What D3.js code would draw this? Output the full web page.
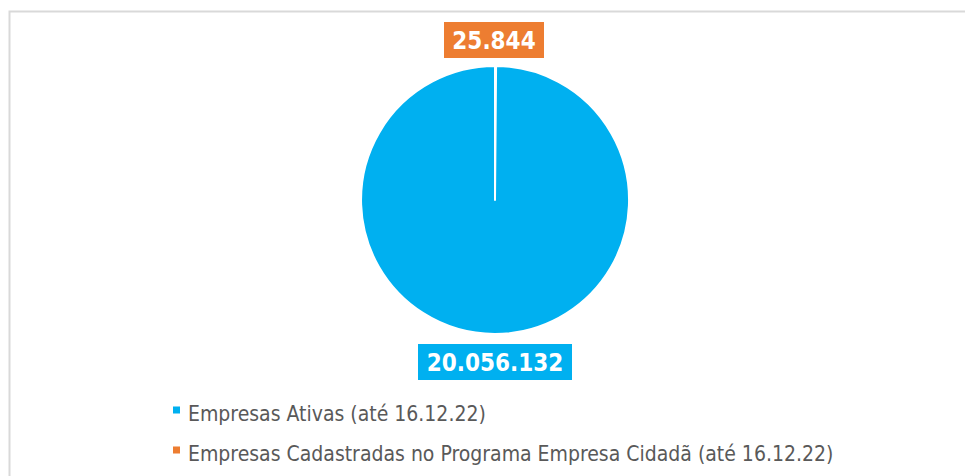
<!DOCTYPE html>
<html>
<head>
<meta charset="utf-8">
<script src="https://cdn.jsdelivr.net/npm/d3@7"></script>
<style>
  body { margin: 0; background: #fff; }
  svg { display: block; }
</style>
</head>
<body>
<div id="chart"></div>
<script>
// chart data
var categories = ["Empresas Ativas (até 16.12.22)", "Empresas Cadastradas no Programa Empresa Cidadã (até 16.12.22)"];
var values = [20056132, 25844];
var valueLabels = ["20.056.132", "25.844"];
var colors = ["#00B0F0", "#ED7D31"];

var width = 966, height = 476;
var cx = 495, cy = 200, radius = 134;

var svg = d3.select("#chart")
            .append("svg")
            .attr("width", width)
            .attr("height", height);

// chart frame (only top and left edges are visible)
svg.append("path")
   .attr("d", "M9.5," + height + " V11.5 H965")
   .style("fill", "none")
   .style("stroke", "#d9d9d9")
   .style("stroke-width", 2);

// pie, clockwise from 12 o'clock; reversed so the orange sliver sits right after 12
var pie = d3.pie().sort(null).value(function(d) { return d; });
var arcs = pie(values.slice().reverse());
var arc = d3.arc().innerRadius(0).outerRadius(radius);

var g = svg.append("g").attr("transform", "translate(" + cx + "," + cy + ")");

g.selectAll("path")
 .data(arcs)
 .enter()
 .append("path")
 .attr("d", arc)
 .style("fill", function(d, i) { return colors[values.length - 1 - i]; })
 .style("stroke", "white")
 .style("stroke-width", 2)
 .style("stroke-linejoin", "round");

// data labels
var labelPos = [
  { y: cy + radius + 28, w: 154 },   // big slice, below pie
  { y: cy - radius - 26, w: 100 }    // small slice, above pie
];

values.forEach(function(v, i) {
  var lg = svg.append("g").attr("transform", "translate(" + cx + "," + labelPos[i].y + ")");
  lg.append("rect")
    .attr("x", -labelPos[i].w / 2 - (i === 0 ? 0 : 1))
    .attr("y", -18)
    .attr("width", labelPos[i].w)
    .attr("height", 36)
    .style("fill", colors[i]);
  lg.append("text")
    .attr("x", i === 0 ? 0 : -1)
    .attr("y", 9)
    .attr("text-anchor", "middle")
    .style("font-family", "DejaVu Sans Condensed, DejaVu Sans, sans-serif")
    .style("font-stretch", "condensed")
    .style("font-weight", "bold")
    .style("font-size", "24px")
    .style("fill", "white")
    .text(valueLabels[i]);
});

// legend
var legend = svg.append("g").attr("transform", "translate(173,410)");
categories.forEach(function(c, i) {
  var row = legend.append("g").attr("transform", "translate(0," + (i * 40) + ")");
  row.append("rect")
     .attr("x", 0).attr("y", -3.5)
     .attr("width", 7).attr("height", 7)
     .style("fill", colors[i]);
  row.append("text")
     .attr("x", 15)
     .attr("y", 11)
     .style("font-family", "DejaVu Sans Condensed, DejaVu Sans, sans-serif")
     .style("font-stretch", "condensed")
     .style("font-size", "21px")
     .style("fill", "#595959")
     .text(c);
});
</script>
</body>
</html>
